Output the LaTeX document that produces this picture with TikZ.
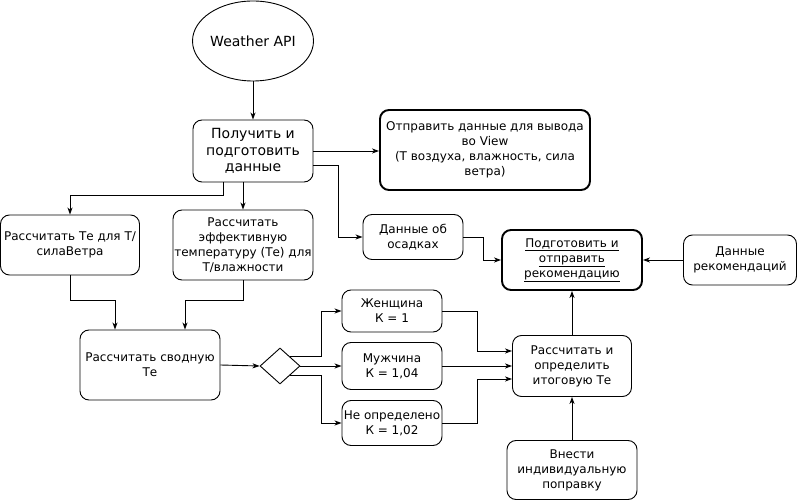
\documentclass[tikz,border=0pt]{standalone}
\usepackage{fontspec}
\setmainfont{DejaVu Sans}
\usetikzlibrary{shapes.geometric,arrows.meta,calc}
\begin{document}
\begin{tikzpicture}[x=1pt,y=-1pt,
  every node/.style={inner sep=0pt,align=center},
  box/.style={draw,rounded corners=9pt,line width=0.9pt,font=\fontsize{12}{15}\selectfont},
  bigbox/.style={box,font=\fontsize{14}{16.5}\selectfont},
  thickbox/.style={box,line width=1.9pt},
  arr/.style={line width=0.9pt,-{Stealth[length=7pt,width=5pt,inset=2pt]}},
  ln/.style={line width=0.9pt}]
\useasboundingbox (0,0) rectangle (798,502);
\fill[white] (0,0) rectangle (798,502);

\node[draw,ellipse,line width=0.9pt,minimum width=120pt,minimum height=80pt,font=\fontsize{14}{16.5}\selectfont] (api) at (253,41) {Weather API};
\node[bigbox,minimum width=120pt,minimum height=62pt] (get) at (253,151) {Получить и\\подготовить\\данные};
\node[thickbox,minimum width=210pt,minimum height=80pt] (view) at (485,150) {Отправить данные для вывода\\во View\\(Т воздуха, влажность, сила\\ветра)};
\node[box,minimum width=100pt,minimum height=45pt] (rain) at (413,237) {Данные об\\осадках};
\node[thickbox,minimum width=140pt,minimum height=60pt] (prep) at (572,260) {\underline{Подготовить и}\\\underline{отправить}\\\underline{рекомендацию}};
\node[box,minimum width=113pt,minimum height=50pt] (rec) at (740,260) {Данные\\рекомендаций};
\node[box,minimum width=139pt,minimum height=60pt] (wind) at (70,245) {Рассчитать Те для Т/\\силаВетра};
\node[box,minimum width=140pt,minimum height=70pt] (hum) at (243,245) {Рассчитать\\эффективную\\температуру (Те) для\\Т/влажности};
\node[box,minimum width=140pt,minimum height=70pt] (sum) at (150,365) {Рассчитать сводную\\Те};
\node[draw,diamond,line width=0.9pt,minimum width=40pt,minimum height=36pt] (dec) at (280,366) {};
\node[box,minimum width=100pt,minimum height=42pt] (fem) at (392,311) {Женщина\\К = 1};
\node[box,minimum width=100pt,minimum height=47pt] (male) at (392,366) {Мужчина\\К = 1,04};
\node[box,minimum width=100pt,minimum height=45pt] (und) at (392,423) {Не определено\\К = 1,02};
\node[box,minimum width=119pt,minimum height=61pt] (final) at (572,366) {Рассчитать и\\определить\\итоговую Те};
\node[box,minimum width=130pt,minimum height=59pt] (ind) at (572,470) {Внести\\индивидуальную\\поправку};

\draw[arr] (api) -- (get);
\draw[arr] (get.east) -- (get.east -| view.west);
\draw[arr] ([yshift=-14pt]get.east) -- ++(25,0) |- (rain.west);
\draw[arr] (rain.east) -- ++(20,0) |- (prep.west);
\draw[arr] (rec.west) -- (prep.east);
\draw[arr] ([xshift=-30pt]get.south) -- ++(0,13) -| (wind.north);
\draw[arr] (hum.north |- get.south) -- (hum.north);
\draw[arr] (wind.south) -- ++(0,25) -| ([xshift=-35pt]sum.north);
\draw[arr] (hum.south) -- ++(0,20) -| ([xshift=35pt]sum.north);
\draw[arr] (sum.east) -- (dec.west);
\draw[arr] (dec.north east) -- ++(31,0) |- (fem.west);
\draw[arr] (dec.east) -- (male.west);
\draw[arr] (dec.south east) -- ++(31,0) |- (und.west);
\draw[arr] (fem.east) -- ++(35,0) |- ([yshift=15pt]final.west);
\draw[arr] (male.east) -- (final.west);
\draw[arr] (und.east) -- ++(35,0) |- ([yshift=-13pt]final.west);
\draw[arr] (final.north) -- (prep.south);
\draw[arr] (ind.north) -- (final.south);
\end{tikzpicture}
\end{document}
